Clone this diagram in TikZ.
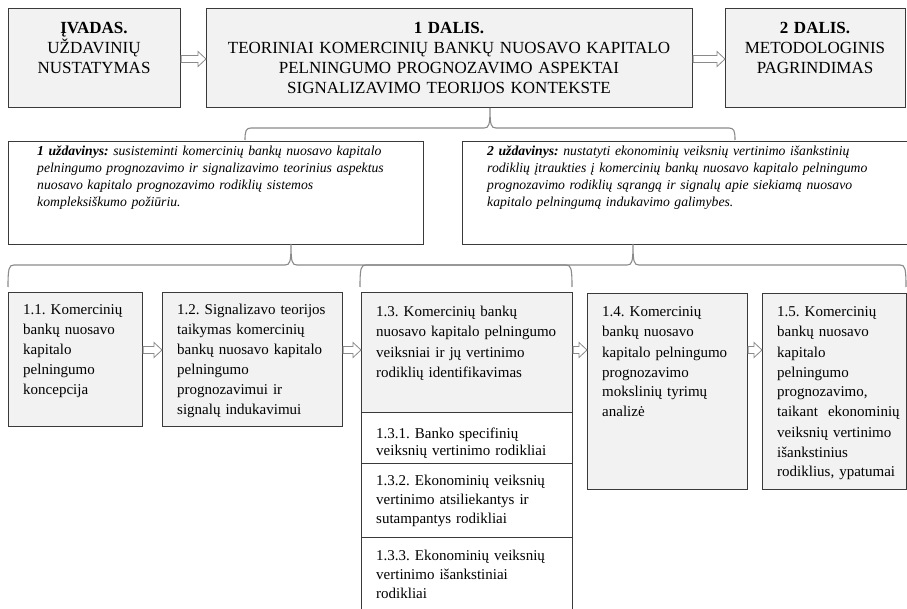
\documentclass[tikz,border=0pt]{standalone}
\usepackage{fontspec}
\setmainfont{Liberation Serif}
\usetikzlibrary{calc}
\definecolor{boxgray}{HTML}{F2F2F2}
\definecolor{edge}{HTML}{3A3A3A}
\definecolor{brc}{HTML}{8A8A8A}
\tikzset{
  graybox/.style={draw=edge, line width=1.1pt, fill=boxgray, inner sep=0pt, anchor=north west},
  whitebox/.style={draw=edge, line width=1.1pt, fill=white, inner sep=0pt, anchor=north west},
  toptxt/.style={inner sep=0pt, anchor=base, align=center, font=\fontsize{17}{20}\selectfont},
  tasktxt/.style={inner sep=0pt, anchor=base west, align=left, font=\fontsize{13.7}{16.8}\selectfont\itshape},
  lowtxt/.style={inner sep=0pt, anchor=base west, align=left, font=\fontsize{15}{20}\selectfont},
  arr/.style={draw=brc, fill=white, line width=0.8pt, line join=miter},
  braceline/.style={draw=brc, line width=1.1pt},
}
\newcommand\blockarr[2]{%
  \draw[arr] let \p1=(#1), \p2=(#2) in
    (\x1,\y1+3.5pt) -- (\x2-8pt,\y1+3.5pt) -- (\x2-8pt,\y1+7.5pt) -- (\x2,\y1)
    -- (\x2-8pt,\y1-7.5pt) -- (\x2-8pt,\y1-3.5pt) -- (\x1,\y1-3.5pt) -- cycle;}
% left end, right end, tip x, tip y, line y, end y
\newcommand\upbrace[6]{%
  \draw[braceline] (#1,#6) .. controls (#1,#5+3) and (#1+1,#5) .. (#1+6,#5)
    -- (#3-6,#5) .. controls (#3-1,#5) and (#3,#5-3) .. (#3,#4)
    .. controls (#3,#5-3) and (#3+1,#5) .. (#3+6,#5)
    -- (#2-6,#5) .. controls (#2-1,#5) and (#2,#5+3) .. (#2,#6);}
\frenchspacing
\begin{document}
\frenchspacing
\begin{tikzpicture}[x=1pt,y=-1pt]
\useasboundingbox (0,0) rectangle (907,609);
\clip (0,0) rectangle (907,609);
% top row
\node[graybox, minimum width=172pt, minimum height=99pt] (ivadas) at (8,8) {};
\node[graybox, minimum width=486pt, minimum height=99pt] (dalis1) at (206,8) {};
\node[graybox, minimum width=180pt, minimum height=99pt] (dalis2) at (725,8) {};
\node[toptxt, text width=168pt] (ivadasT) at (94,34) {\textbf{ĮVADAS.}\\UŽDAVINIŲ\\NUSTATYMAS};
\node[toptxt, text width=480pt] (dalis1T) at (449,34) {\textbf{1 DALIS.}\\TEORINIAI KOMERCINIŲ BANKŲ NUOSAVO KAPITALO\\PELNINGUMO PROGNOZAVIMO ASPEKTAI\\SIGNALIZAVIMO TEORIJOS KONTEKSTE};
\node[toptxt, text width=176pt] (dalis2T) at (815,34) {\textbf{2 DALIS.}\\METODOLOGINIS\\PAGRINDIMAS};
\coordinate (a1s) at (ivadas.east |- 0,59);
\coordinate (a1e) at (dalis1.west |- 0,59);
\coordinate (a2s) at (dalis1.east |- 0,59);
\coordinate (a2e) at (dalis2.west |- 0,59);
\blockarr{a1s}{a1e}
\blockarr{a2s}{a2e}
% brace under 1 DALIS
\upbrace{245}{735}{490}{108}{128}{140}
% task boxes
\node[whitebox, minimum width=415pt, minimum height=103pt] (task1) at (8,141) {};
\node[whitebox, minimum width=470pt, minimum height=103pt] (task2) at (462,141) {};
\node[tasktxt, text width=386pt] (task1T) at (37,156) {\textbf{1 uždavinys:} susisteminti komercinių bankų nuosavo kapitalo\\pelningumo prognozavimo ir signalizavimo teorinius aspektus\\nuosavo kapitalo prognozavimo rodiklių sistemos\\kompleksiškumo požiūriu.};
\node[tasktxt, text width=418pt] (task2T) at (487,156) {\textbf{2 uždavinys:} nustatyti ekonominių veiksnių vertinimo išankstinių\\rodiklių įtraukties į komercinių bankų nuosavo kapitalo pelningumo\\prognozavimo rodiklių sąrangą ir signalų apie siekiamą nuosavo\\kapitalo pelningumą indukavimo galimybes.};
% braces under tasks
\upbrace{8}{572}{291}{244}{265}{287}
\upbrace{360}{906}{633}{244}{265}{287}
% lower boxes
\node[graybox, minimum width=134pt, minimum height=134pt] (n11) at (8,292) {};
\node[graybox, minimum width=180pt, minimum height=134pt] (n12) at (162,292) {};
\node[graybox, minimum width=211pt, minimum height=120pt] (n13) at (361,292) {};
\node[whitebox, minimum width=211pt, minimum height=51pt] (n131) at (361,412) {};
\node[whitebox, minimum width=211pt, minimum height=74pt] (n132) at (361,463) {};
\node[whitebox, minimum width=211pt, minimum height=80pt] (n133) at (361,537) {};
\node[graybox, minimum width=160pt, minimum height=196pt] (n14) at (587,293) {};
\node[graybox, minimum width=144pt, minimum height=196pt] (n15) at (762,293) {};
\node[lowtxt, text width=125pt] (n11T) at (23,315) {1.1. Komercinių\\bankų nuosavo\\kapitalo\\pelningumo\\koncepcija};
\node[lowtxt, text width=170pt] (n12T) at (177,315) {1.2. Signalizavo teorijos\\taikymas komercinių\\bankų nuosavo kapitalo\\pelningumo\\prognozavimui ir\\signalų indukavimui};
\node[lowtxt, text width=195pt] (n13T) at (376,317) {1.3. Komercinių bankų\\nuosavo kapitalo pelningumo\\veiksniai ir jų vertinimo\\rodiklių identifikavimas};
\node[lowtxt, text width=195pt, font=\fontsize{15}{17}\selectfont] (n131T) at (376,438) {1.3.1. Banko specifinių\\veiksnių vertinimo rodikliai};
\node[lowtxt, text width=195pt, font=\fontsize{15}{19}\selectfont] (n132T) at (376,485) {1.3.2. Ekonominių veiksnių\\vertinimo atsiliekantys ir\\sutampantys rodikliai};
\node[lowtxt, text width=195pt, font=\fontsize{15}{19}\selectfont] (n133T) at (376,560) {1.3.3. Ekonominių veiksnių\\vertinimo išankstiniai\\rodikliai};
\node[lowtxt, text width=145pt] (n14T) at (602,317) {1.4. Komercinių\\bankų nuosavo\\kapitalo pelningumo\\prognozavimo\\mokslinių tyrimų\\analizė};
\node[lowtxt, text width=128pt] (n15T) at (777,317) {1.5. Komercinių\\bankų nuosavo\\kapitalo\\pelningumo\\prognozavimo,\\taikant\ \ ekonominių\\veiksnių vertinimo\\išankstinius\\rodiklius, ypatumai};
% lower arrows
\coordinate (b1s) at (n11.east |- 0,350);
\coordinate (b1e) at (n12.west |- 0,350);
\coordinate (b2s) at (n12.east |- 0,350);
\coordinate (b2e) at (n13.west |- 0,350);
\coordinate (b3s) at (n13.east |- 0,350);
\coordinate (b3e) at (n14.west |- 0,350);
\coordinate (b4s) at (n14.east |- 0,350);
\coordinate (b4e) at (n15.west |- 0,350);
\blockarr{b1s}{b1e}
\blockarr{b2s}{b2e}
\blockarr{b3s}{b3e}
\blockarr{b4s}{b4e}
\end{tikzpicture}
\end{document}
